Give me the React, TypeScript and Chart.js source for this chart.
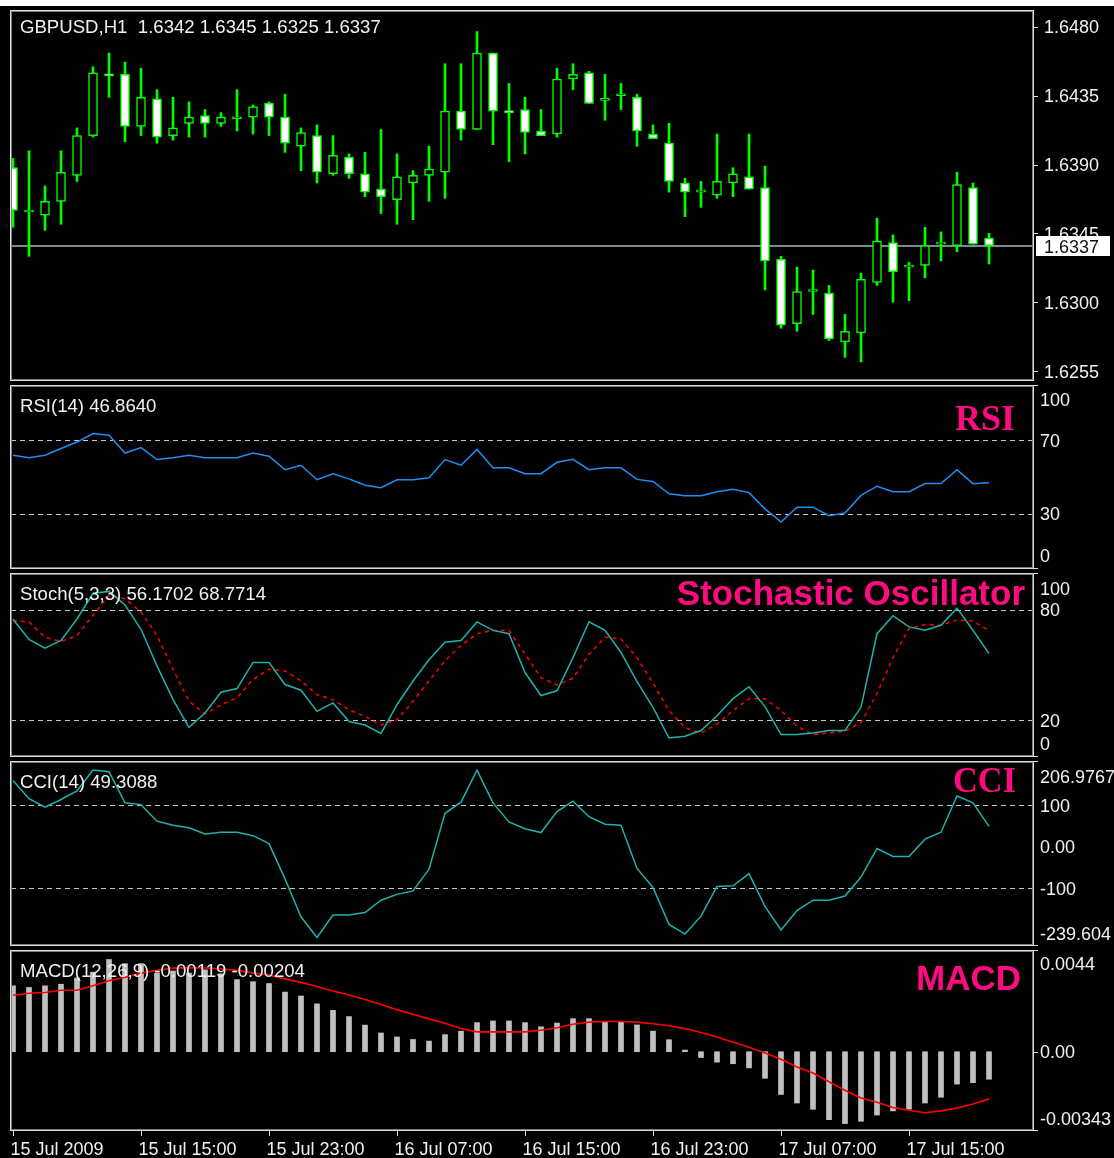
import React, { useEffect, useRef } from 'react';
import { Chart, registerables } from 'chart.js';

Chart.register(...registerables);

// ---------- data ----------
const OPEN = [1.6388,1.6359,1.6357,1.6366,1.6383,1.6409,1.6449,1.6449,1.6415,1.6433,1.6409,1.6417,1.6422,1.6417,1.6420,1.6421,1.6430,1.6421,1.6402,1.6409,1.6384,1.6395,1.6384,1.6374,1.6367,1.6378,1.6383,1.6385,1.6425,1.6413,1.6463,1.6425,1.6426,1.6412,1.6410,1.6446,1.6450,1.6432,1.6435,1.6434,1.6410,1.6404,1.6378,1.6372,1.6370,1.6378,1.6382,1.6375,1.6328,1.6286,1.6307,1.6306,1.6274,1.6280,1.6313,1.6339,1.6323,1.6324,1.6338,1.6337,1.6375,1.6342];
const HIGH = [1.6394,1.6399,1.6376,1.6399,1.6414,1.6454,1.6463,1.6457,1.6453,1.6439,1.6434,1.6431,1.6426,1.6424,1.6439,1.6429,1.6431,1.6436,1.6414,1.6416,1.6409,1.6397,1.6398,1.6413,1.6397,1.6386,1.6402,1.6456,1.6456,1.6477,1.6463,1.6443,1.6434,1.6426,1.6453,1.6456,1.6451,1.6449,1.6443,1.6436,1.6416,1.6417,1.6381,1.6379,1.6410,1.6388,1.6410,1.6389,1.6330,1.6323,1.6321,1.6311,1.6292,1.6319,1.6355,1.6344,1.6326,1.6349,1.6346,1.6385,1.6378,1.6345];
const LOW = [1.6349,1.6330,1.6347,1.6351,1.6379,1.6408,1.6434,1.6405,1.6409,1.6404,1.6406,1.6408,1.6408,1.6415,1.6412,1.6410,1.6409,1.6398,1.6386,1.6378,1.6383,1.6381,1.6369,1.6358,1.6351,1.6354,1.6366,1.6368,1.6406,1.6413,1.6403,1.6392,1.6397,1.6409,1.6408,1.6439,1.6430,1.6419,1.6426,1.6402,1.6407,1.6372,1.6356,1.6362,1.6368,1.6369,1.6374,1.6308,1.6283,1.6281,1.6292,1.6275,1.6264,1.6261,1.6311,1.6300,1.6301,1.6316,1.6327,1.6333,1.6338,1.6325];
const CLOSE = [1.6360,1.6359,1.6366,1.6385,1.6409,1.6450,1.6448,1.6415,1.6434,1.6408,1.6414,1.6421,1.6417,1.6421,1.6420,1.6428,1.6421,1.6404,1.6411,1.6385,1.6396,1.6384,1.6372,1.6369,1.6382,1.6383,1.6387,1.6425,1.6413,1.6463,1.6425,1.6424,1.6411,1.6409,1.6446,1.6449,1.6430,1.6432,1.6435,1.6412,1.6407,1.6379,1.6372,1.6372,1.6379,1.6384,1.6374,1.6327,1.6285,1.6307,1.6307,1.6276,1.6281,1.6315,1.6340,1.6320,1.6323,1.6337,1.6338,1.6377,1.6338,1.6337];

const RSI = [61.8,60.5,61.8,65.5,69,73.6,72.7,63,66,59.5,60.5,61.8,60.5,60.5,60.5,63,61.3,54,56.4,48.5,51.8,49,45.5,44.2,48.5,48.5,49.6,59.5,56.4,65,55,55,51.8,51.8,58,59.6,54,55,55,48.7,47.6,40.9,39.8,39.8,42,43.3,41.5,32.7,25.5,33.6,33.6,29,30.4,40,45,42,42,46.4,46.4,54,46.4,46.86];

const STOCH_MAIN = [74.9,63.9,59.1,63.3,75,89,90,82.6,69.4,49.5,31.2,16.1,23.9,35.2,37.2,51.4,51.4,39.4,36.3,24.8,29.4,19.3,17.4,12.8,28.4,41.3,52.8,62.4,63.3,73.4,68.8,67,45.9,33.4,36,54,73.5,68.9,56.8,41,27,10.3,11.3,14.4,22.4,31.7,38.2,27.4,12.2,12.2,13.1,14.4,14.4,27,67,76.8,70.7,68.9,71.6,80.9,68.9,56.17];
const STOCH_SIGNAL = [74.3,73.4,65.1,62.8,66,77,88,86,78.9,66,47.7,30.3,23.5,28.4,32.1,42.2,47.7,46.8,41.3,33.9,31.2,25.7,22,17.4,20.2,30.3,41.3,52.3,60.6,67,68.8,68.8,56,43.1,39.2,42.8,55.8,65.1,64.2,54,40.1,25.2,15.9,13.1,17.8,25.2,31.7,31.7,25.2,16.8,12.2,13.1,14,18.7,34.5,54,69.8,72,71.6,74.4,73.9,68.77];

const CCI = [160,115.8,95.8,114,135,185,181,106,101.7,61.7,51.7,45.8,30.8,35,35,26.7,7.5,-77.5,-169,-219,-165,-165,-159,-129,-115,-106.7,-54,80.8,107.5,185,105.8,60,43.3,34.2,85,110,72.5,54.2,51.7,-52.5,-98.3,-187.5,-210.8,-167.5,-95.8,-94.2,-65,-144,-200.8,-154,-129,-129,-119,-73.3,-4.2,-23.3,-23.3,18.3,35,122.5,105.8,49.31];

const MACD_MAIN = [0.00285,0.00278,0.00285,0.00292,0.00319,0.00344,0.00399,0.00381,0.00381,0.0034,0.00349,0.0034,0.00354,0.00337,0.00312,0.00303,0.00295,0.00258,0.00241,0.00207,0.00179,0.00152,0.00115,0.00081,0.00064,0.00053,0.00046,0.00074,0.00089,0.00126,0.00133,0.00133,0.00126,0.00108,0.00124,0.00143,0.00143,0.00131,0.00131,0.00116,0.00089,0.00052,0.00007,-0.00025,-0.00045,-0.00052,-0.0007,-0.00115,-0.00185,-0.00222,-0.00249,-0.00294,-0.00311,-0.00301,-0.00274,-0.00256,-0.00249,-0.00222,-0.00197,-0.0014,-0.00134,-0.00119];
const MACD_SIGNAL = [0.00244,0.00253,0.00256,0.00266,0.00266,0.00285,0.00307,0.00322,0.0034,0.00352,0.00362,0.00363,0.00362,0.00359,0.00352,0.00341,0.00332,0.00315,0.003,0.00282,0.00263,0.00245,0.00226,0.00204,0.00182,0.00162,0.00142,0.00123,0.001,0.00086,0.00086,0.00086,0.00086,0.00093,0.00104,0.00119,0.00128,0.00131,0.00131,0.00128,0.00121,0.00112,0.001,0.00083,0.00064,0.00042,0.00019,-0.00006,-0.00033,-0.00066,-0.00092,-0.0013,-0.00167,-0.002,-0.00219,-0.00241,-0.00253,-0.00264,-0.00256,-0.00244,-0.00226,-0.00204];

const TIME_TICK_INDEX = [0, 8, 16, 24, 32, 40, 48, 56];
const TIME_TICK_LABELS = ['15 Jul 2009', '15 Jul 15:00', '15 Jul 23:00', '16 Jul 07:00', '16 Jul 15:00', '16 Jul 23:00', '17 Jul 07:00', '17 Jul 15:00'];
const PRICE_TICKS = [1.648, 1.6435, 1.639, 1.6345, 1.63, 1.6255];
const PRICE_RANGE = [1.62485, 1.64911];
const CCI_RANGE = [-239.6043, 206.9767];
const MACD_RANGE = [-0.00343, 0.0044];

// ---------- layout ----------
const W = 1114;
const PAD_LEFT = 11;
const AXIS_W = 80;
const BAR_PX = 16;
const X_MIN = -0.125;
const X_MAX = X_MIN + (W - AXIS_W - PAD_LEFT) / BAR_PX;
const FONT = '18px "Liberation Sans", Arial, sans-serif';
const TITLE_FONT = '18.6px "Liberation Sans", Arial, sans-serif';
const TXT = '#f0f0f0';
const PINK = '#ff0a80';

const pts = (arr: number[]) => arr.map((v, i) => ({ x: i, y: v }));

type AxisLabel = { v: number; text: string; off?: number; tick?: boolean };
type Badge = { text: string; font: string; right: number; base: number; maxWidth?: number };
type PanelCfg = {
  top: number; height: number; padBottom: number;
  yMin: number; yMax: number;
  datasets: any[];
  levels: number[];
  title: string; titleBase: number;
  labelX: number;
  axisLabels: AxisLabel[];
  badge?: Badge;
  priceLine?: number;
  xTicks?: boolean;
};

function makeDecor(cfg: PanelCfg) {
  return {
    id: 'decor',
    beforeDatasetsDraw(chart: any) {
      const { ctx, chartArea: a } = chart;
      const y = chart.scales.y;
      ctx.save();
      ctx.strokeStyle = '#c8c8c8';
      ctx.lineWidth = 1;
      ctx.setLineDash([5, 4]);
      for (const lv of cfg.levels) {
        const py = Math.round(y.getPixelForValue(lv)) + 0.5;
        ctx.beginPath();
        ctx.moveTo(a.left, py);
        ctx.lineTo(a.right, py);
        ctx.stroke();
      }
      ctx.setLineDash([]);
      if (cfg.priceLine !== undefined) {
        const py = Math.round(y.getPixelForValue(cfg.priceLine));
        ctx.strokeStyle = '#7b8794';
        ctx.lineWidth = 2;
        ctx.beginPath();
        ctx.moveTo(a.left, py);
        ctx.lineTo(a.right, py);
        ctx.stroke();
      }
      ctx.restore();
    },
    afterDatasetsDraw(chart: any) {
      const { ctx, chartArea: a } = chart;
      ctx.save();
      ctx.font = TITLE_FONT;
      ctx.fillStyle = TXT;
      ctx.textBaseline = 'alphabetic';
      ctx.textAlign = 'left';
      ctx.fillText(cfg.title, 20, a.top + cfg.titleBase);
      if (cfg.badge) {
        const b = cfg.badge;
        ctx.font = b.font;
        ctx.fillStyle = PINK;
        ctx.textAlign = 'right';
        if (b.maxWidth) ctx.fillText(b.text, b.right, a.top + b.base, b.maxWidth);
        else ctx.fillText(b.text, b.right, a.top + b.base);
      }
      ctx.restore();
    },
    afterDraw(chart: any) {
      const { ctx, chartArea: a } = chart;
      const y = chart.scales.y;
      const x = chart.scales.x;
      ctx.save();
      // frame
      ctx.lineWidth = 1;
      ctx.strokeStyle = '#dcdcdc';
      ctx.strokeRect(a.left - 0.5, a.top + 0.5, a.right - a.left, a.bottom - a.top - 1);
      ctx.strokeStyle = '#7c7c7c';
      ctx.strokeRect(a.left + 0.5, a.top + 1.5, a.right - a.left - 2, a.bottom - a.top - 3);
      // right axis labels
      ctx.font = FONT;
      ctx.fillStyle = TXT;
      ctx.textAlign = 'left';
      ctx.textBaseline = 'alphabetic';
      for (const l of cfg.axisLabels) {
        const py = y.getPixelForValue(l.v);
        ctx.fillText(l.text, cfg.labelX, py + (l.off === undefined ? 6.5 : l.off));
        if (l.tick) {
          const ty = Math.min(Math.max(Math.round(py), a.top), a.bottom - 1) + 0.5;
          ctx.strokeStyle = '#dcdcdc';
          ctx.beginPath();
          ctx.moveTo(a.right, ty);
          ctx.lineTo(a.right + 4, ty);
          ctx.stroke();
        }
      }
      // last price box
      if (cfg.priceLine !== undefined) {
        const py = Math.round(y.getPixelForValue(cfg.priceLine));
        ctx.fillStyle = '#ffffff';
        ctx.fillRect(a.right + 2, py - 10, 74, 20);
        ctx.fillStyle = '#101010';
        ctx.fillText(cfg.priceLine.toFixed(4), cfg.labelX, py + 6.5);
      }
      // time axis
      if (cfg.xTicks) {
        ctx.strokeStyle = '#dcdcdc';
        ctx.fillStyle = TXT;
        TIME_TICK_INDEX.forEach((idx, k) => {
          const px = Math.round(x.getPixelForValue(idx)) + 0.5;
          ctx.beginPath();
          ctx.moveTo(px, a.bottom);
          ctx.lineTo(px, a.bottom + 5);
          ctx.stroke();
          ctx.fillText(TIME_TICK_LABELS[k], px - 3, a.bottom + 24);
        });
      }
      ctx.restore();
    },
  };
}

function Panel({ cfg }: { cfg: PanelCfg }) {
  const ref = useRef<HTMLCanvasElement | null>(null);
  useEffect(() => {
    if (!ref.current) return;
    const chart = new Chart(ref.current, {
      type: 'bar',
      data: { datasets: cfg.datasets },
      options: {
        animation: false,
        responsive: false,
        devicePixelRatio: 1,
        events: [],
        layout: { padding: { left: PAD_LEFT, right: AXIS_W, top: 0, bottom: cfg.padBottom } },
        plugins: { legend: { display: false }, tooltip: { enabled: false } },
        scales: {
          x: { type: 'linear', min: X_MIN, max: X_MAX, offset: false, display: false },
          y: { type: 'linear', min: cfg.yMin, max: cfg.yMax, beginAtZero: false, display: false },
        },
      } as any,
      plugins: [makeDecor(cfg)],
    } as any);
    return () => chart.destroy();
  }, [cfg]);
  return (
    <canvas
      ref={ref}
      width={W}
      height={cfg.height}
      style={{ position: 'absolute', left: 0, top: cfg.top, width: W, height: cfg.height, display: 'block' }}
    />
  );
}

const lineDs = (arr: number[], color: string, extra: any = {}) => ({
  type: 'line',
  data: pts(arr),
  borderColor: color,
  borderWidth: 1.5,
  pointRadius: 0,
  fill: false,
  tension: 0,
  clip: 0,
  ...extra,
});

const PANELS: PanelCfg[] = [
  {
    top: 10, height: 371, padBottom: 0,
    yMin: PRICE_RANGE[0], yMax: PRICE_RANGE[1],
    datasets: [
      {
        type: 'bar',
        data: OPEN.map((o, i) => ({ x: i, y: [o, CLOSE[i]] })),
        backgroundColor: OPEN.map((o, i) => (CLOSE[i] < o ? '#ffffff' : '#000000')),
        borderColor: '#00ff00',
        borderWidth: 1.5,
        borderSkipped: false,
        barThickness: 9,
        minBarLength: 2,
        grouped: false,
        order: 0,
        clip: 0,
      },
      {
        type: 'bar',
        data: LOW.map((l, i) => ({ x: i, y: [l, HIGH[i]] })),
        backgroundColor: '#00ff00',
        borderWidth: 0,
        barThickness: 2,
        grouped: false,
        order: 1,
        clip: 0,
      },
    ],
    levels: [],
    title: 'GBPUSD,H1  1.6342 1.6345 1.6325 1.6337',
    titleBase: 23,
    labelX: 1044,
    axisLabels: PRICE_TICKS.map((v) => ({ v, text: v.toFixed(4), tick: true })),
    priceLine: CLOSE[CLOSE.length - 1],
  },
  {
    top: 385, height: 184, padBottom: 0,
    yMin: 0, yMax: 100,
    datasets: [lineDs(RSI, '#1e8ff0')],
    levels: [70, 30],
    title: 'RSI(14) 46.8640',
    titleBase: 27,
    labelX: 1040,
    axisLabels: [
      { v: 100, text: '100', off: 21, tick: true },
      { v: 70, text: '70' },
      { v: 30, text: '30' },
      { v: 0, text: '0', off: -7, tick: true },
    ],
    badge: { text: 'RSI', font: 'bold 36px "Liberation Serif", serif', right: 1015, base: 45, maxWidth: 62 },
  },
  {
    top: 573, height: 184, padBottom: 0,
    yMin: 0, yMax: 100,
    datasets: [
      lineDs(STOCH_MAIN, '#20b2aa', { order: 0 }),
      lineDs(STOCH_SIGNAL, '#ff0000', { order: 1, borderDash: [4, 4] }),
    ],
    levels: [80, 20],
    title: 'Stoch(5,3,3) 56.1702 68.7714',
    titleBase: 27,
    labelX: 1040,
    axisLabels: [
      { v: 100, text: '100', off: 22, tick: true },
      { v: 80, text: '80' },
      { v: 20, text: '20' },
      { v: 0, text: '0', off: -7, tick: true },
    ],
    badge: { text: 'Stochastic Oscillator', font: 'bold 35px "Liberation Sans", Arial, sans-serif', right: 1025, base: 32 },
  },
  {
    top: 761, height: 185, padBottom: 0,
    yMin: CCI_RANGE[0], yMax: CCI_RANGE[1],
    datasets: [lineDs(CCI, '#20b2aa')],
    levels: [100, -100],
    title: 'CCI(14) 49.3088',
    titleBase: 27,
    labelX: 1040,
    axisLabels: [
      { v: CCI_RANGE[1], text: '206.9767', off: 22, tick: true },
      { v: 100, text: '100' },
      { v: 0, text: '0.00' },
      { v: -100, text: '-100' },
      { v: CCI_RANGE[0], text: '-239.604', off: -6, tick: true },
    ],
    badge: { text: 'CCI', font: 'bold 36px "Liberation Serif", serif', right: 1016, base: 31, maxWidth: 63 },
  },
  {
    top: 950, height: 208, padBottom: 27,
    yMin: MACD_RANGE[0], yMax: MACD_RANGE[1],
    datasets: [
      {
        type: 'bar',
        data: pts(MACD_MAIN),
        backgroundColor: '#c0c0c0',
        borderWidth: 0,
        barThickness: 5,
        grouped: false,
        order: 1,
        clip: 0,
      },
      lineDs(MACD_SIGNAL, '#ff0000', { order: 0, borderWidth: 1.6 }),
    ],
    levels: [],
    title: 'MACD(12,26,9) -0.00119 -0.00204',
    titleBase: 27,
    labelX: 1040,
    axisLabels: [
      { v: MACD_RANGE[1], text: '0.0044', off: 20, tick: true },
      { v: 0, text: '0.00', tick: true },
      { v: MACD_RANGE[0], text: '-0.00343', off: -6, tick: true },
    ],
    badge: { text: 'MACD', font: 'bold 35px "Liberation Sans", Arial, sans-serif', right: 1021, base: 40 },
    xTicks: true,
  },
];

export default function App() {
  return (
    <div style={{ position: 'absolute', left: 0, top: 0, width: W, height: 1158, background: '#000', overflow: 'hidden' }}>
      <div style={{ position: 'absolute', left: 0, top: 0, width: W, height: 6, background: '#fff' }} />
      {PANELS.map((p, i) => (
        <Panel key={i} cfg={p} />
      ))}
    </div>
  );
}
